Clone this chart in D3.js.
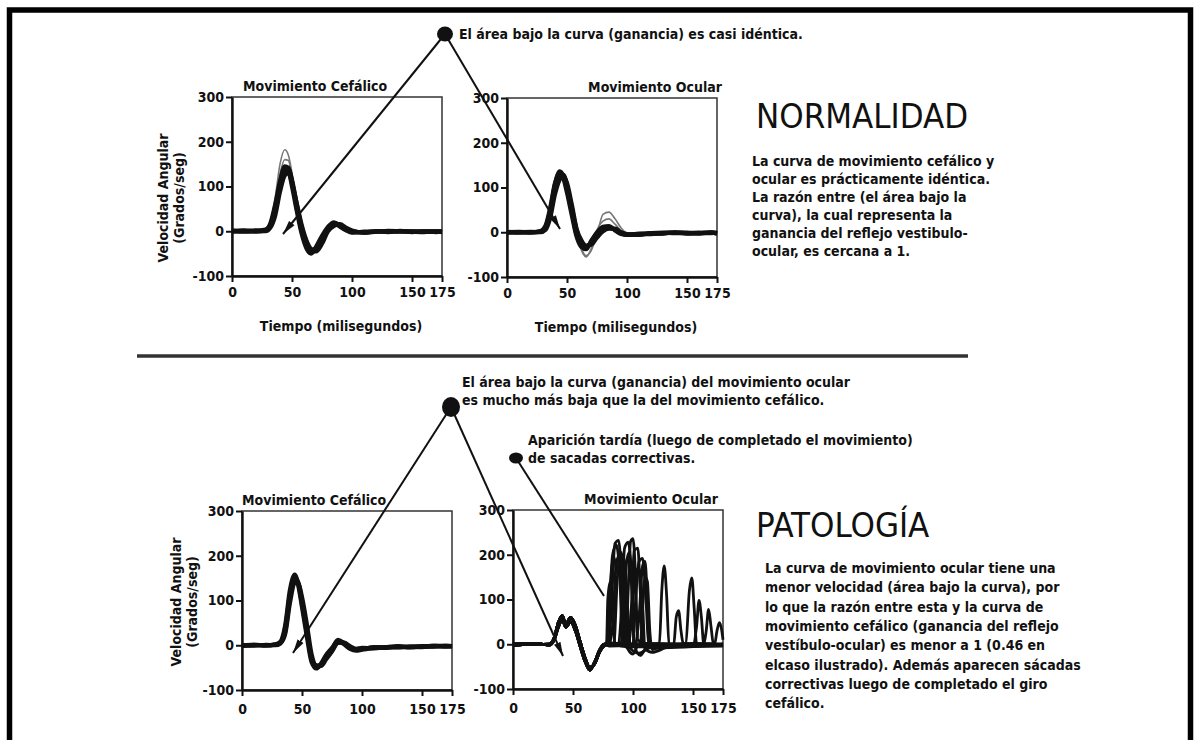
<!DOCTYPE html>
<html>
<head>
<meta charset="utf-8">
<script src="https://cdn.jsdelivr.net/npm/d3@7"></script>
<style>
body { margin: 0; background: #fff; }
svg text { font-family: "Liberation Sans Narrow", "DejaVu Sans Condensed", sans-serif; fill: #111; }
</style>
</head>
<body>
<div id="c1"></div>
<script>
// Data
var tGrid = [0,10,20,28,32,36,40,44,47,50,54,58,62,66,70,75,80,85,90,95,100,110,120,130,140,150,160,170,175];

// normalidad - movimiento cefalico
var headNormal = [
  [0,1,-1,2,12,45,100,135,140,115,60,10,-25,-42,-38,-20,5,15,12,5,0,-2,-1,0,-1,0,-1,0,-2],
  [2,-1,1,4,18,60,112,145,142,110,52,0,-32,-48,-40,-15,8,18,14,4,-2,-3,0,-1,0,-2,0,-1,-1],
  [-1,0,2,0,8,35,88,125,130,108,62,15,-20,-40,-45,-28,0,12,16,8,2,-3,-1,1,0,-1,-2,0,0],
  [0,2,0,3,15,52,105,140,135,100,45,-5,-38,-50,-35,-10,10,20,10,2,-3,-1,0,-2,1,-1,0,-2,-1]
];
var headNormalGray = [
  [0,0,0,3,20,75,150,182,170,130,65,10,-30,-45,-35,-12,6,14,8,1,-1,0,0,0,0,0,0,0,0],
  [0,0,0,2,15,62,128,160,158,122,60,5,-30,-44,-36,-14,4,12,10,2,0,0,0,0,0,0,0,0,0]
];

// normalidad - movimiento ocular
var eyeNormal = [
  [0,0,-1,1,8,40,95,128,128,105,55,5,-22,-32,-25,-8,5,10,6,-2,-6,-5,-3,-2,-1,-3,-2,0,-3],
  [1,-1,0,2,12,50,108,136,125,95,45,-5,-30,-35,-22,-2,10,12,5,-3,-5,-4,-2,-3,0,-2,-1,-2,-1],
  [-1,0,1,0,5,32,85,118,126,110,62,8,-18,-30,-28,-12,2,8,8,0,-4,-6,-2,-1,-2,-1,-3,-1,-2],
  [0,1,0,3,14,55,110,132,120,88,38,-10,-33,-38,-20,0,12,14,4,-4,-6,-3,-4,-2,-1,-2,-2,-1,-3]
];
var eyeNormalGray = [
  [0,0,0,0,10,45,100,130,132,115,65,10,-35,-52,-42,-5,40,45,30,10,-2,-3,-2,-1,-1,-2,-1,-1,-2],
  [0,0,0,1,10,40,95,125,128,108,58,0,-40,-55,-38,5,25,30,18,4,-3,-2,-2,-1,-2,-1,-2,-1,-2]
];

// patologia - movimiento cefalico
var headPatho = [
  [0,0,-1,1,5,30,105,152,140,100,35,-30,-48,-42,-28,-12,8,4,-6,-10,-8,-5,-6,-3,-4,-2,-3,-1,-2],
  [-2,1,0,2,8,45,125,158,132,85,20,-38,-52,-40,-22,-6,10,2,-8,-12,-10,-6,-4,-5,-3,-4,-2,-3,-1],
  [1,-1,1,0,4,25,95,140,138,108,48,-20,-45,-46,-32,-14,5,6,-2,-8,-6,-7,-4,-2,-5,-3,-1,-2,-3],
  [0,1,0,2,6,38,115,150,136,92,30,-32,-50,-44,-25,-8,12,5,-5,-10,-9,-4,-5,-4,-3,-3,-2,-2,-2]
];

// patologia - movimiento ocular: respuesta inicial + sacadas correctivas
var eyePathoStartA = [[0,0],[10,2],[20,-1],[30,0],[34,12],[38,50],[41,64],[44,45],[48,60],[52,42],[56,5],[60,-30],[64,-52],[68,-44],[72,-18],[76,-3]];
var eyePathoStartB = [[0,-3],[10,0],[20,2],[30,-2],[34,8],[38,40],[41,55],[44,38],[48,50],[52,30],[56,-5],[60,-38],[64,-58],[68,-40],[72,-14],[76,0]];
var eyePathoSaccades = [
  [[80,0],[82,90],[85,225],[88,232],[91,120],[93,5],[98,-5],[105,0],[115,-3],[125,0],[135,-2],[145,0],[155,-1],[165,0],[175,-2]],
  [[80,-2],[88,0],[90,60],[93,215],[96,228],[99,140],[101,5],[108,-4],[118,0],[122,2],[124,120],[126,175],[128,110],[130,0],[140,-3],[150,0],[160,-2],[175,0]],
  [[80,3],[100,0],[102,90],[105,185],[108,192],[111,90],[113,0],[120,-3],[140,0],[144,3],[147,120],[149,148],[151,80],[153,0],[165,-2],[175,0]],
  [[78,0],[80,70],[83,200],[86,222],[89,150],[91,20],[95,-8],[110,0],[130,-2],[134,0],[136,60],[138,75],[140,30],[142,0],[160,-3],[175,-1]],
  [[78,5],[79,100],[81,140],[83,90],[85,0],[94,-5],[96,120],[98,230],[100,236],[102,160],[104,10],[115,-5],[150,0],[153,40],[155,98],[157,60],[159,0],[161,30],[163,78],[165,40],[167,0],[175,-3]],
  [[80,-4],[95,-3],[99,100],[101,210],[104,215],[106,120],[108,0],[120,-2],[160,0],[168,0],[170,30],[172,48],[174,30],[175,10]],
  [[80,2],[102,0],[105,60],[108,175],[110,185],[112,100],[114,0],[130,-3],[150,2],[175,0]],
  [[80,-1],[84,0],[87,150],[90,205],[93,130],[95,0],[110,2],[175,0]],
  [[80,0],[83,40],[86,180],[89,200],[92,110],[94,0],[100,-22],[104,-5],[120,-8],[175,0]],
  [[80,-3],[90,-2],[92,80],[95,190],[97,205],[99,120],[101,0],[106,-25],[112,-6],[175,-4]],
  [[80,2],[96,0],[99,60],[102,160],[105,170],[108,90],[110,-10],[116,-18],[130,-6],[175,-2]],
  [[80,-2],[106,-4],[108,80],[110,150],[112,140],[114,30],[116,-12],[125,-4],[175,-1]],
  [[79,0],[81,120],[84,195],[87,160],[90,200],[93,185],[96,60],[98,-10],[105,-20],[114,-8],[175,-3]]
];

var xTicks = [0,50,100,150,175];
var yTicks = [-100,0,100,200,300];

var textNormal = [
  "La curva de movimiento cefálico y",
  "ocular es prácticamente idéntica.",
  "La razón entre (el área bajo la",
  "curva), la cual representa la",
  "ganancia del reflejo vestibulo-",
  "ocular, es cercana a 1."
];
var textPatho = [
  "La curva de movimiento ocular tiene una",
  "menor velocidad (área bajo la curva), por",
  "lo que la razón entre esta y la curva de",
  "movimiento cefálico (ganancia del reflejo",
  "vestíbulo-ocular) es menor a 1 (0.46 en",
  "elcaso ilustrado). Además aparecen sácadas",
  "correctivas luego de completado el giro",
  "cefálico."
];

var w = 1194, h = 740;

var svg = d3.select("#c1").append("svg")
    .attr("width", w)
    .attr("height", h);

// arrow head
svg.append("defs").append("marker")
    .attr("id", "arr")
    .attr("viewBox", "0 -4 14 8")
    .attr("refX", 14).attr("refY", 0)
    .attr("markerWidth", 14).attr("markerHeight", 8)
    .attr("markerUnits", "userSpaceOnUse")
    .attr("orient", "auto")
    .append("path").attr("d", "M0,-3.5L14,0L0,3.5Z").attr("fill", "#111");

// outer frame
svg.append("path")
    .attr("d", "M9.5,740V10H1190.5V740")
    .attr("fill", "none").attr("stroke", "#000").attr("stroke-width", 5.5);

function panel(cfg) {
    var x = d3.scaleLinear().domain([0, 175]).range([cfg.x0, cfg.x1]);
    var y = d3.scaleLinear().domain([-100, 300]).range([cfg.yb, cfg.yt]);
    var g = svg.append("g");

    // box
    g.append("rect")
        .attr("x", cfg.x0).attr("y", cfg.yt)
        .attr("width", cfg.x1 - cfg.x0).attr("height", cfg.yb - cfg.yt)
        .attr("fill", "none").attr("stroke", "#333").attr("stroke-width", 1.5);

    var line = d3.line()
        .x(function (d) { return x(d[0]); })
        .y(function (d) { return y(d[1]); })
        .curve(d3.curveMonotoneX);

    var lines = g.append("g");
    (cfg.gray || []).forEach(function (s) {
        lines.append("path").attr("d", line(s))
            .attr("fill", "none").attr("stroke", "#777").attr("stroke-width", 1.6);
    });
    cfg.series.forEach(function (s) {
        lines.append("path").attr("d", line(s))
            .attr("fill", "none").attr("stroke", "#111").attr("stroke-width", cfg.sw || 4.2)
            .attr("stroke-linejoin", "round");
    });

    var ax = g.append("g")
        .attr("transform", "translate(" + cfg.x0 + ",0)")
        .call(d3.axisLeft(y).tickValues(yTicks).tickFormat(function (d) { return String(d); })
            .tickSize(6).tickPadding(2).tickSizeOuter(0));
    var bx = g.append("g")
        .attr("transform", "translate(0," + cfg.yb + ")")
        .call(d3.axisBottom(x).tickValues(xTicks).tickSize(6).tickPadding(cfg.tp || 5).tickSizeOuter(0));
    [ax, bx].forEach(function (a) {
        a.select(".domain").attr("stroke", "#111").attr("stroke-width", 2.4);
        a.selectAll(".tick line").attr("stroke", "#111").attr("stroke-width", 2);
        a.selectAll(".tick text").attr("fill", "#111")
            .style("font-size", "14px").style("font-weight", "bold");
    });

    g.append("text")
        .attr("x", cfg.titleX).attr("y", cfg.yt - 6)
        .attr("text-anchor", cfg.titleAnchor)
        .style("font-size", "14px").style("font-weight", "bold")
        .text(cfg.title);
    if (cfg.xlabel) {
        g.append("text")
            .attr("x", (cfg.x0 + cfg.x1) / 2 + 4).attr("y", cfg.yb + 55)
            .attr("text-anchor", "middle")
            .style("font-size", "14px").style("font-weight", "bold")
            .text("Tiempo (milisegundos)");
    }
    if (cfg.ylabelX) {
        var yl = g.append("text")
            .attr("transform", "translate(" + cfg.ylabelX + "," + cfg.ylabelY + ") rotate(-90)")
            .attr("text-anchor", "middle")
            .style("font-size", "14px").style("font-weight", "bold");
        yl.append("tspan").attr("x", 0).attr("dy", 0).text("Velocidad Angular");
        yl.append("tspan").attr("x", 0).attr("dy", 16).text("(Grados/seg)");
    }
}

function toPairs(vals) {
    return vals.map(function (v, i) { return [tGrid[i], v]; });
}

panel({ x0: 232, x1: 442, yt: 97, yb: 276, title: "Movimiento Cefálico", titleX: 243, titleAnchor: "start",
        series: headNormal.map(toPairs), gray: headNormalGray.map(toPairs), xlabel: true,
        ylabelX: 168, ylabelY: 198 });
panel({ x0: 507, x1: 717, yt: 98, yb: 277, title: "Movimiento Ocular", titleX: 722, titleAnchor: "end",
        series: eyeNormal.map(toPairs), gray: eyeNormalGray.map(toPairs), xlabel: true });
panel({ x0: 242, x1: 452, yt: 511, yb: 690, title: "Movimiento Cefálico", titleX: 242, titleAnchor: "start",
        series: headPatho.map(toPairs), ylabelX: 181, ylabelY: 602, tp: 8 });
panel({ x0: 513, x1: 723, yt: 510, yb: 689, title: "Movimiento Ocular", titleX: 718, titleAnchor: "end",
        series: eyePathoSaccades.map(function (s, i) {
            return (i % 2 ? eyePathoStartB : eyePathoStartA).concat(s);
        }), sw: 2.8, tp: 8 });

// divider
svg.append("line")
    .attr("x1", 137).attr("x2", 968).attr("y1", 356).attr("y2", 356)
    .attr("stroke", "#333").attr("stroke-width", 3.5);

// annotation lines
function pointer(x1, y1, x2, y2, arrow) {
    var l = svg.append("line")
        .attr("x1", x1).attr("y1", y1).attr("x2", x2).attr("y2", y2)
        .attr("stroke", "#111").attr("stroke-width", 2);
    if (arrow) l.attr("marker-end", "url(#arr)");
}
pointer(445, 34, 283, 234, true);
pointer(445, 34, 560, 229, true);
pointer(451, 407, 293, 653, true);
pointer(451, 407, 563, 656, true);
pointer(516, 458, 604, 596, false);

svg.append("ellipse").attr("cx", 445).attr("cy", 34).attr("rx", 8).attr("ry", 7.5).attr("fill", "#111");
svg.append("ellipse").attr("cx", 451).attr("cy", 407).attr("rx", 9).attr("ry", 10).attr("fill", "#111");
svg.append("ellipse").attr("cx", 516).attr("cy", 458).attr("rx", 7).attr("ry", 5.5).attr("fill", "#111");

function note(x, y, lines, size, lh) {
    var t = svg.append("text").attr("x", x).attr("y", y)
        .style("font-size", size + "px").style("font-weight", "bold");
    lines.forEach(function (s, i) {
        t.append("tspan").attr("x", x).attr("dy", i ? lh : 0).text(s);
    });
}
note(459, 39, ["El área bajo la curva (ganancia) es casi idéntica."], 14, 18);
note(462, 387, ["El área bajo la curva (ganancia) del movimiento ocular",
                "es mucho más baja que la del movimiento cefálico."], 14, 18);
note(528, 445, ["Aparición tardía (luego de completado el movimiento)",
                "de sacadas correctivas."], 14, 18);

svg.append("text").attr("x", 756).attr("y", 128)
    .style("font-size", "34.5px").text("NORMALIDAD");
note(752, 166, textNormal, 14, 18);

svg.append("text").attr("x", 756).attr("y", 537)
    .style("font-size", "34.5px").text("PATOLOGÍA");
note(765, 573, textPatho, 14, 19.3);
</script>
</body>
</html>
